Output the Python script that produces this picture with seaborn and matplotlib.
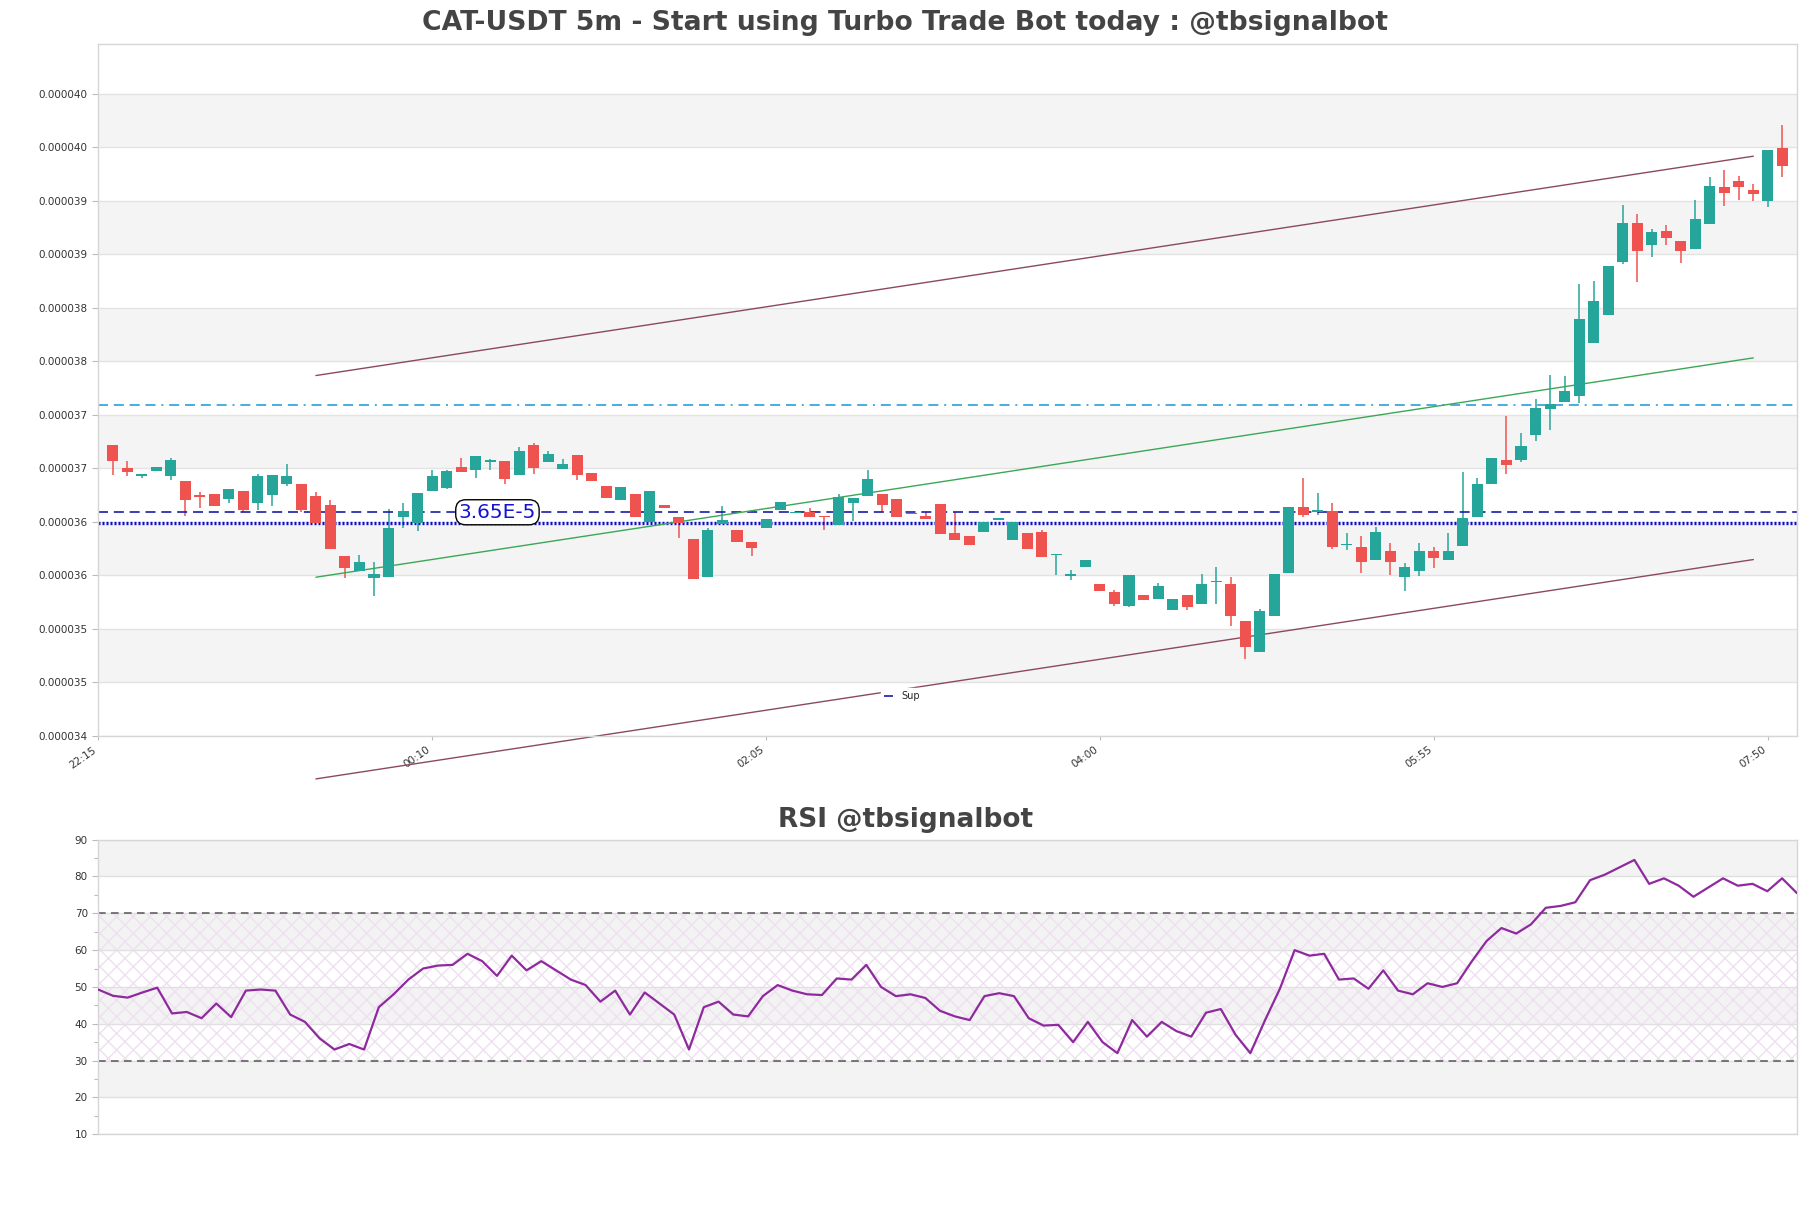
import numpy as np
import pandas as pd
import matplotlib
matplotlib.use("Agg")
import matplotlib.pyplot as plt
from matplotlib.ticker import FuncFormatter, FixedLocator
import seaborn as sns

sns.set_theme(style="white")
plt.rcParams["font.family"] = ["DejaVu Sans"]

TITLE = "CAT-USDT 5m - Start using Turbo Trade Bot today : @tbsignalbot"
RSI_TITLE = "RSI @tbsignalbot"

# prices in micro-USDT (1e-6)
opens = [37.118, 36.903, 36.831, 36.872, 36.831, 36.781, 36.638, 36.660, 36.613, 36.688,
         36.579, 36.650, 36.756, 36.753, 36.641, 36.557, 36.080, 35.943, 35.878, 35.887,
         36.448, 36.386, 36.691, 36.716, 36.909, 36.887, 36.960, 36.968, 36.841, 37.121,
         36.962, 36.893, 37.024, 36.856, 36.738, 36.607, 36.660, 36.398, 36.557, 36.442,
         36.239, 35.881, 36.383, 36.323, 36.211, 36.339, 36.513, 36.480, 36.492, 36.443,
         36.373, 36.570, 36.644, 36.660, 36.613, 36.468, 36.451, 36.566, 36.292, 36.267,
         36.308, 36.420, 36.233, 36.295, 36.308, 36.085, 35.896, 35.981, 35.816, 35.741,
         35.613, 35.713, 35.682, 35.570, 35.713, 35.635, 35.834, 35.816, 35.470, 35.180,
         35.522, 35.924, 36.538, 36.495, 36.501, 36.180, 36.164, 36.046, 36.127, 35.887,
         35.943, 36.127, 36.046, 36.177, 36.448, 36.753, 36.980, 36.980, 37.208, 37.455,
         37.517, 37.573, 38.068, 38.330, 38.825, 39.187, 38.984, 39.121, 39.028, 38.947,
         39.180, 39.529, 39.588, 39.498, 39.395, 39.888]
highs = [37.120, 36.968, 36.850, 36.912, 36.993, 36.781, 36.682, 36.660, 36.707, 36.688,
         36.847, 36.837, 36.940, 36.753, 36.678, 36.604, 36.080, 36.090, 36.021, 36.520,
         36.573, 36.669, 36.887, 36.887, 36.996, 37.015, 36.987, 36.968, 37.099, 37.131,
         37.062, 36.987, 37.024, 36.856, 36.738, 36.725, 36.660, 36.688, 36.557, 36.442,
         36.239, 36.339, 36.544, 36.323, 36.211, 36.426, 36.585, 36.485, 36.526, 36.443,
         36.660, 36.622, 36.884, 36.660, 36.613, 36.471, 36.489, 36.566, 36.489, 36.267,
         36.401, 36.425, 36.395, 36.295, 36.323, 36.087, 35.950, 36.043, 35.816, 35.763,
         35.900, 35.713, 35.828, 35.675, 35.713, 35.912, 35.974, 35.881, 35.470, 35.585,
         35.912, 36.540, 36.809, 36.672, 36.575, 36.292, 36.264, 36.348, 36.201, 36.015,
         36.201, 36.161, 36.295, 36.862, 36.806, 36.996, 37.390, 37.230, 37.542, 37.775,
         37.760, 38.617, 38.645, 38.794, 39.364, 39.280, 39.131, 39.177, 39.028, 39.405,
         39.617, 39.691, 39.635, 39.560, 39.878, 40.106]
lows = [36.840, 36.831, 36.812, 36.872, 36.794, 36.457, 36.529, 36.551, 36.576, 36.488,
        36.513, 36.551, 36.738, 36.488, 36.389, 36.149, 35.878, 35.943, 35.710, 35.887,
        36.339, 36.317, 36.691, 36.707, 36.868, 36.809, 36.887, 36.753, 36.841, 36.850,
        36.962, 36.893, 36.794, 36.781, 36.626, 36.607, 36.445, 36.398, 36.532, 36.245,
        35.865, 35.881, 36.383, 36.214, 36.083, 36.339, 36.513, 36.477, 36.448, 36.326,
        36.373, 36.411, 36.644, 36.489, 36.448, 36.468, 36.429, 36.289, 36.233, 36.186,
        36.300, 36.418, 36.233, 36.149, 36.074, 35.906, 35.856, 35.981, 35.756, 35.616,
        35.598, 35.672, 35.682, 35.570, 35.579, 35.635, 35.635, 35.429, 35.118, 35.180,
        35.522, 35.924, 36.448, 36.466, 36.145, 36.139, 35.921, 36.046, 35.906, 35.756,
        35.890, 35.971, 36.046, 36.177, 36.448, 36.753, 36.850, 36.960, 37.152, 37.261,
        37.517, 37.511, 38.068, 38.330, 38.810, 38.638, 38.872, 38.984, 38.816, 38.947,
        39.180, 39.349, 39.405, 39.395, 39.339, 39.620]
closes = [36.971, 36.869, 36.847, 36.912, 36.977, 36.607, 36.635, 36.551, 36.707, 36.513,
          36.828, 36.837, 36.828, 36.513, 36.389, 36.149, 35.968, 36.021, 35.912, 36.342,
          36.498, 36.669, 36.828, 36.875, 36.868, 37.015, 36.963, 36.800, 37.059, 36.906,
          37.034, 36.943, 36.841, 36.781, 36.626, 36.725, 36.445, 36.688, 36.532, 36.389,
          35.865, 36.326, 36.417, 36.214, 36.158, 36.426, 36.585, 36.482, 36.448, 36.440,
          36.632, 36.622, 36.800, 36.560, 36.448, 36.471, 36.429, 36.289, 36.233, 36.186,
          36.401, 36.425, 36.395, 36.149, 36.074, 36.087, 35.898, 36.043, 35.756, 35.632,
          35.900, 35.672, 35.800, 35.675, 35.598, 35.816, 35.836, 35.523, 35.233, 35.566,
          35.912, 36.538, 36.466, 36.498, 36.164, 36.183, 36.027, 36.304, 36.027, 35.977,
          36.127, 36.064, 36.127, 36.435, 36.753, 36.996, 36.930, 37.110, 37.464, 37.504,
          37.626, 38.299, 38.467, 38.794, 39.187, 38.928, 39.112, 39.050, 38.928, 39.233,
          39.542, 39.470, 39.526, 39.461, 39.878, 39.722]

rsi = [49.3, 47.6, 47.1, 48.5, 49.8, 42.8, 43.2, 41.5, 45.5, 41.8,
       49.0, 49.3, 49.0, 42.5, 40.5, 36.0, 33.0, 34.5, 33.0, 44.5,
       48.0, 52.0, 55.0, 55.8, 56.0, 59.0, 57.0, 53.0, 58.5, 54.5,
       57.0, 54.5, 52.0, 50.5, 46.0, 49.0, 42.5, 48.5, 45.5, 42.5,
       33.0, 44.5, 46.0, 42.5, 42.0, 47.5, 50.5, 49.0, 48.0, 47.8,
       52.3, 52.0, 56.0, 50.0, 47.5, 48.0, 47.0, 43.5, 42.0, 41.0,
       47.5, 48.3, 47.5, 41.5, 39.5, 39.7, 35.0, 40.5, 35.0, 32.0,
       41.0, 36.5, 40.5, 38.0, 36.5, 43.0, 44.0, 37.0, 32.0, 41.0,
       49.5, 60.0, 58.5, 59.0, 52.0, 52.3, 49.5, 54.5, 49.0, 48.0,
       51.0, 50.0, 51.0, 57.0, 62.5, 66.0, 64.5, 67.0, 71.5, 72.0,
       73.0, 79.0, 80.5, 82.5, 84.5, 78.0, 79.5, 77.5, 74.5, 77.0,
       79.5, 77.5, 78.0, 76.0, 79.5, 75.5]

tick_pos = [-1, 22, 45, 68, 91, 114]
tick_labels = ["22:15", "00:10", "02:05", "04:00", "05:55", "07:50"]

channel_idx = [14, 113]
channel_mid = [35.881, 37.931]
channel_half = 1.885
resistance = 37.486
pivot = 36.488
support = 36.388
price_label = "3.65E-5"
y_ticks_micro = [34.4 + 0.5 * k for k in range(13)]
y_range_micro = (34.40, 40.866)

SCALE = 1e-6
df = pd.DataFrame({"open": opens, "high": highs, "low": lows, "close": closes}) * SCALE
df["idx"] = np.arange(len(df))
up = df["close"] >= df["open"]
GREEN, RED = "#26a69a", "#ef5350"
df["color"] = np.where(up, GREEN, RED)
df["bottom"] = df[["open", "close"]].min(axis=1)
df["height"] = (df["close"] - df["open"]).abs().clip(lower=0.012 * SCALE)

fig = plt.figure(figsize=(18.11, 12.08), dpi=100)
ax = fig.add_axes([0.0542, 0.391, 0.938, 0.5727])
ax2 = fig.add_axes([0.0542, 0.0611, 0.938, 0.2438])

SPINE = "#d6d6d6"
TXT = "#333333"

# ---- main price panel ----
yt = [v * SCALE for v in y_ticks_micro]
for k in range(1, 12, 2):
    ax.axhspan(yt[k], yt[k + 1], color="#f4f4f4", zorder=0.2, lw=0)
ax.set_axisbelow(True)
ax.yaxis.grid(True, color="#e3e3e3", lw=1)
ax.xaxis.grid(False)

ax.vlines(df["idx"], df["low"], df["high"], colors=df["color"], lw=1.1, zorder=2)
ax.bar(df["idx"], df["height"], bottom=df["bottom"], width=0.76,
       color=df["color"], lw=0, zorder=3)

cx = np.array(channel_idx)
cm = np.array(channel_mid) * SCALE
ch = channel_half * SCALE
ax.plot(cx, cm + ch, color="#8b4a5c", lw=1, clip_on=False, zorder=2.5)
ax.plot(cx, cm, color="#3aa856", lw=1, clip_on=False, zorder=2.5)
ax.plot(cx, cm - ch, color="#8b4a5c", lw=1, clip_on=False, zorder=2.5)

ax.axhline(resistance * SCALE, color="#2b9fd8", lw=1.2,
           linestyle=(0, (6, 3.5, 6, 3.5, 6, 3.5, 6, 3.5, 1.2, 3.5)), zorder=2.4)
ax.axhline(pivot * SCALE, color="#1c1ca8", lw=1.2,
           linestyle=(0, (6, 3.5)), zorder=2.4, label="Sup")
ax.axhline(support * SCALE, color="#0a0ad8", lw=2.4, linestyle=(0, (0.6, 0.6)), zorder=2.4)

ax.text(26.5, pivot * SCALE, price_label, ha="center", va="center",
        color="#1414d0", fontsize=14.5, zorder=5,
        bbox=dict(boxstyle="round,pad=0.15,rounding_size=0.5", fc="white", ec="black", lw=1))

ax.set_xlim(-1, len(df))
ax.set_ylim(y_range_micro[0] * SCALE, y_range_micro[1] * SCALE)
ax.yaxis.set_major_locator(FixedLocator(yt))
ax.yaxis.set_major_formatter(FuncFormatter(lambda v, p: f"{v:.6f}"))
ax.set_xticks(tick_pos)
ax.set_xticklabels(tick_labels, rotation=35, ha="right")
ax.tick_params(axis="y", length=4, width=0.8, color="#bbbbbb", labelsize=7.5, labelcolor=TXT, left=True)
ax.tick_params(axis="x", length=3, width=0.8, color="#bbbbbb", labelsize=7.5, labelcolor=TXT, bottom=True)
for s in ax.spines.values():
    s.set_color(SPINE)
    s.set_linewidth(1)
fig.text(0.5, 1 - 20 / 1046, TITLE, ha="center", va="center",
         fontsize=19.2, fontweight="bold", color="#444444")
leg = ax.legend(loc="center", bbox_to_anchor=(0.473, 0.057), fontsize=7, frameon=True,
                framealpha=1, facecolor="white", edgecolor="white", handlelength=1.0,
                fancybox=False, borderpad=0.3)
leg.set_zorder(6)

# ---- RSI panel ----
for lo, hi in [(80, 90), (60, 70), (40, 50), (20, 30)]:
    ax2.axhspan(lo, hi, color="#f3f3f3", zorder=0.2, lw=0)
ax2.axhspan(30, 70, facecolor="none", hatch="xx", edgecolor="#eee0f0", lw=0, zorder=0.3)
ax2.set_axisbelow(True)
ax2.yaxis.grid(True, color="#e0e0e0", lw=1)
ax2.xaxis.grid(False)
ax2.axhline(70, color="#555555", lw=1.1, linestyle=(0, (5, 3.5)), zorder=2)
ax2.axhline(30, color="#555555", lw=1.1, linestyle=(0, (5, 3.5)), zorder=2)
rsi_df = pd.DataFrame({"idx": np.arange(len(rsi)), "rsi": rsi})
sns.lineplot(data=rsi_df, x="idx", y="rsi", ax=ax2, color="#8e2a9e", lw=1.6, zorder=3)
ax2.set_xlim(0, len(rsi) - 1)
ax2.set_ylim(10, 90)
ax2.set_yticks(range(10, 91, 10))
ax2.set_yticks(range(15, 90, 10), minor=True)
ax2.set_xticks([])
ax2.set_xlabel("")
ax2.set_ylabel("")
ax2.tick_params(axis="y", which="major", length=4, width=0.8, color="#bbbbbb", labelsize=7.5, labelcolor=TXT, left=True)
ax2.tick_params(axis="y", which="minor", length=3, width=0.8, color="#bbbbbb", left=True)
for s in ax2.spines.values():
    s.set_color(SPINE)
    s.set_linewidth(1)
fig.text(0.5, 1 - 710 / 1046, RSI_TITLE, ha="center", va="center",
         fontsize=19, fontweight="bold", color="#444444")

fig.savefig("out.png", dpi=100)
